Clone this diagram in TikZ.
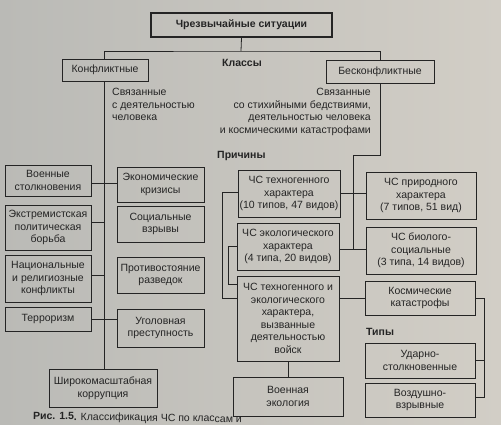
\documentclass[tikz,border=0pt]{standalone}
\usepackage{fontspec}
\setmainfont{Liberation Sans}
\definecolor{bgL}{RGB}{186,186,182}
\definecolor{bgR}{RGB}{210,206,198}
\definecolor{ink}{RGB}{36,36,36}
\begin{document}
\begin{tikzpicture}[x=1pt,y=-1pt,
  every node/.style={text=ink, font=\fontsize{10.5}{12.5}\selectfont},
  box/.style={draw=ink, line width=0.9pt, align=center, inner sep=1pt},
  conn/.style={draw=ink, line width=0.8pt},
  lbl/.style={font=\fontsize{10.5}{12.5}\selectfont\bfseries, inner sep=0pt},
  txt/.style={inner sep=0pt}]
\useasboundingbox (0,0) rectangle (501,424);
\clip (0,0) rectangle (501,424);
\shade[left color=bgL,right color=bgR] (0,0) rectangle (501,424);

% top
\node[box, line width=1.7pt, minimum width=181, minimum height=24, font=\fontsize{10.5}{12.5}\selectfont\bfseries] (title) at (241.5,25) {Чрезвычайные ситуации};
\node[box, minimum width=86, minimum height=22] (konf) at (105,70) {Конфликтные};
\node[box, minimum width=108, minimum height=23] (beskonf) at (380,71.5) {Бесконфликтные};
\node[lbl, anchor=base west] (klassy) at (222,66) {Классы};
\node[txt, anchor=north west, align=left] (t1) at (112,88) {Связанные\\с деятельностью\\человека};
\node[txt, anchor=north east, align=right] (t2) at (371,88) {Связанные\\со стихийными бедствиями,\\деятельностью человека\\и космическими катастрофами};
\node[lbl, anchor=base west] (prich) at (217,158) {Причины};
\node[lbl, anchor=base west] (tipy) at (366,335) {Типы};

% left columns
\node[box, minimum width=86, minimum height=31] (voen) at (48,180.5) {Военные\\столкновения};
\node[box, minimum width=86, minimum height=45] (extr) at (48,227.5) {Экстремистская\\политическая\\борьба};
\node[box, minimum width=86, minimum height=47] (nac) at (48,278.5) {Национальные\\и религиозные\\конфликты};
\node[box, minimum width=86, minimum height=24] (terr) at (48,319) {Терроризм};
\node[box, minimum width=87, minimum height=35] (econ) at (160.5,184.5) {Экономические\\кризисы};
\node[box, minimum width=87, minimum height=36] (soc) at (160.5,224) {Социальные\\взрывы};
\node[box, minimum width=87, minimum height=36] (protiv) at (160.5,275) {Противостояние\\разведок};
\node[box, minimum width=87, minimum height=38] (ugol) at (160.5,328) {Уголовная\\преступность};
\node[box, minimum width=108, minimum height=38] (korr) at (103,388) {Широкомасштабная\\коррупция};

% right part
\node[box, minimum width=102, minimum height=47] (tech) at (289,193.5) {ЧС техногенного\\характера\\(10 типов, 47 видов)};
\node[box, minimum width=102, minimum height=47] (eco) at (288,246.5) {ЧС экологического\\характера\\(4 типа, 20 видов)};
\node[box, minimum width=102, minimum height=85] (techeco) at (288,318.5) {ЧС техногенного и\\экологического\\характера,\\вызванные\\деятельностью\\войск};
\node[box, minimum width=110, minimum height=39] (voeneco) at (288,396.5) {Военная\\экология};
\node[box, minimum width=110, minimum height=47] (prirod) at (421,195.5) {ЧС природного\\характера\\(7 типов, 51 вид)};
\node[box, minimum width=110, minimum height=47] (bio) at (421,250.5) {ЧС биолого-\\социальные\\(3 типа, 14 видов)};
\node[box, minimum width=110, minimum height=34] (kosm) at (420,298) {Космические\\катастрофы};
\node[box, minimum width=110, minimum height=35] (udar) at (420,360.5) {Ударно-\\столкновенные};
\node[box, minimum width=110, minimum height=34] (vozd) at (420,400) {Воздушно-\\взрывные};

% caption
\node[txt, anchor=base west, rotate=-0.8] (cap) at (33,419.5) {\textbf{Рис. 1.5.} Классификация ЧС по классам и};

% coordinates
\coordinate (hb) at (241,51);
\coordinate (lv) at (104,0);
\coordinate (rv) at (353,155);
\coordinate (ob) at (222,0);
\coordinate (ib) at (228,0);
\coordinate (rb) at (484,0);

% connectors
\draw[conn] (title.south) -- (hb);
\draw[conn] (konf.north -| lv) |- (hb) -| (beskonf.north);
\draw[conn] (konf.south -| lv) -- (korr.north -| lv);
\draw[conn] ([yshift=-2.5]voen.east) -- ([yshift=-2.5]voen.east -| econ.west);
\draw[conn] ([yshift=5.5]extr.east) -- ([yshift=5.5]extr.east -| lv);
\draw[conn] ([yshift=3.5]nac.east) -- ([yshift=3.5]nac.east -| lv);
\draw[conn] (terr.east) -- (terr.east -| ugol.west);
\draw[conn] (beskonf.south) |- (rv) -- ([yshift=-2.5]eco.east -| rv);
\draw[conn] (tech.east) -- (tech.east -| prirod.west);
\draw[conn] ([yshift=-2.5]eco.east) -- ([yshift=-2.5]eco.east -| bio.west);
\draw[conn] (kosm.west -| techeco.east) -- (kosm.west);
\draw[conn] ([yshift=1.5]tech.west) -- ([yshift=1.5]tech.west -| ob) -- ([yshift=20.5]techeco.west -| ob) -- ([yshift=20.5]techeco.west);
\draw[conn] (eco.west) -- (eco.west -| ib) -- ([yshift=34.5]techeco.west -| ib) -- ([yshift=34.5]techeco.west);
\draw[conn] (techeco.south) -- (voeneco.north);
\draw[conn] (kosm.east) -- (kosm.east -| rb) -- ([yshift=3]vozd.east -| rb) -- ([yshift=3]vozd.east);
\draw[conn] (udar.east) -- (udar.east -| rb);
\end{tikzpicture}
\end{document}
